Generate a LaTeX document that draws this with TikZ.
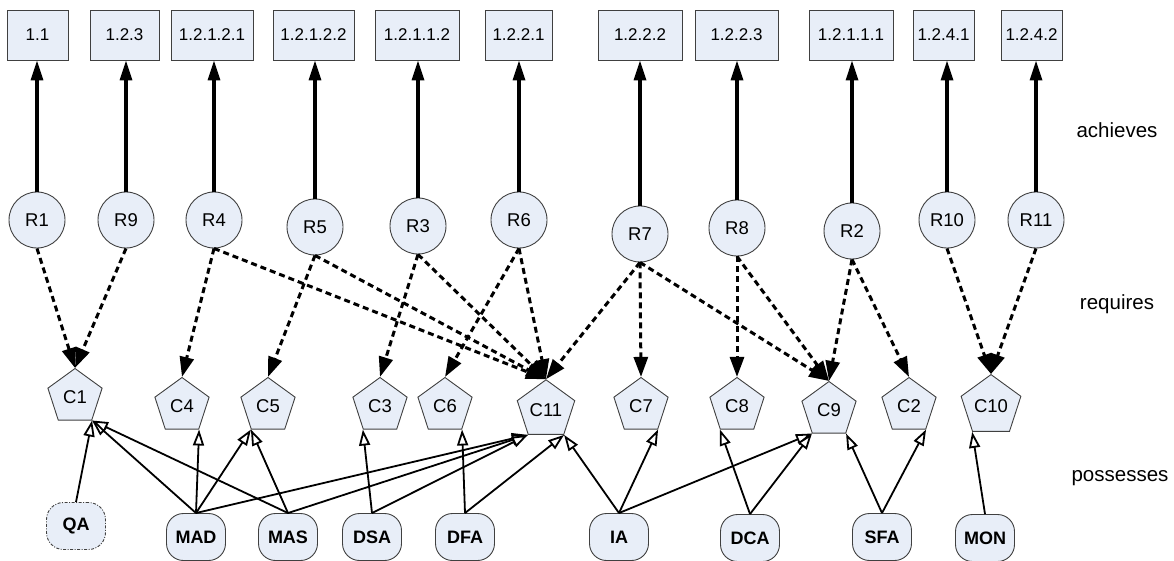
\documentclass[tikz,border=0pt]{standalone}
\usepackage{fontspec}
\setmainfont{Liberation Sans}
\usetikzlibrary{shapes.geometric,arrows.meta}
\definecolor{nodefill}{RGB}{232,238,248}
\begin{document}
\begin{tikzpicture}[x=1pt,y=-1pt,
  goal/.style={draw=black!75,line width=0.9pt,fill=nodefill,minimum height=50pt,inner sep=0pt,font=\fontsize{17}{19}\selectfont},
  role/.style={circle,draw=black!75,line width=0.9pt,fill=nodefill,minimum size=56pt,inner sep=0pt,font=\fontsize{18.5}{20}\selectfont},
  capab/.style={regular polygon,regular polygon sides=5,draw=black!75,line width=0.9pt,fill=nodefill,minimum size=57pt,inner sep=1pt,font=\fontsize{18.5}{20}\selectfont},
  agent/.style={rectangle,rounded corners=17pt,draw=black!75,line width=0.9pt,fill=nodefill,minimum width=59pt,minimum height=47pt,inner sep=0pt,font=\fontsize{18}{20}\selectfont\bfseries},
  achv/.style={line width=3.2pt,-{Triangle[length=20pt,width=12pt]}},
  reqs/.style={line width=3pt,dash pattern=on 6pt off 4pt,-{Triangle[length=20pt,width=14pt]}},
  poss/.style={line width=1.8pt,-{Triangle[open,length=16pt,width=11pt,fill=white]}},
  lbl/.style={font=\fontsize{20.5}{22}\selectfont}
]
\useasboundingbox (0,0) rectangle (1174,561);
% goals
\node[goal,minimum width=61pt] (B1) at (37.5,35) {1.1};
\node[goal,minimum width=69pt] (B9) at (124.5,35) {1.2.3};
\node[goal,minimum width=82pt] (B4) at (212,35) {1.2.1.2.1};
\node[goal,minimum width=81pt] (B5) at (313.5,35) {1.2.1.2.2};
\node[goal,minimum width=84pt] (B3) at (417,35) {1.2.1.1.2};
\node[goal,minimum width=67pt] (B6) at (518.5,35) {1.2.2.1};
\node[goal,minimum width=84pt] (B7) at (640,35) {1.2.2.2};
\node[goal,minimum width=83pt] (B8) at (736.5,35) {1.2.2.3};
\node[goal,minimum width=84pt] (B2) at (851,35) {1.2.1.1.1};
\node[goal,minimum width=61pt] (B10) at (943.5,35) {1.2.4.1};
\node[goal,minimum width=61pt] (B11) at (1031.5,35) {1.2.4.2};
% roles
\node[role] (R1) at (37,220) {R1};
\node[role] (R9) at (126,220) {R9};
\node[role] (R4) at (214,220) {R4};
\node[role] (R5) at (315,227) {R5};
\node[role] (R3) at (418,226) {R3};
\node[role] (R6) at (519,220) {R6};
\node[role] (R7) at (640,234) {R7};
\node[role] (R8) at (737,228) {R8};
\node[role] (R2) at (852,231) {R2};
\node[role] (R10) at (947,220) {R10};
\node[role] (R11) at (1036,220) {R11};
% capabilities
\node[capab] (C1) at (75,397) {C1};
\node[capab] (C4) at (182,406) {C4};
\node[capab] (C5) at (268,406) {C5};
\node[capab] (C3) at (380,406) {C3};
\node[capab] (C6) at (445,406) {C6};
\node[capab] (C11) at (546,410) {C11};
\node[capab] (C7) at (641,406) {C7};
\node[capab] (C8) at (737,406) {C8};
\node[capab] (C9) at (829,410) {C9};
\node[capab] (C2) at (909,406) {C2};
\node[capab] (C10) at (991,406) {C10};
% agents
\node[agent,dash pattern=on 3pt off 1.5pt on 1pt off 1.5pt] (QA) at (76,526) {QA};
\node[agent] (MAD) at (196,537) {MAD};
\node[agent] (MAS) at (288,537) {MAS};
\node[agent] (DSA) at (372,537) {DSA};
\node[agent] (DFA) at (465,537) {DFA};
\node[agent] (IA) at (619,537) {IA};
\node[agent] (DCA) at (750,538) {DCA};
\node[agent] (SFA) at (882,537) {SFA};
\node[agent] (MON) at (985,538) {MON};
% labels
\node[lbl] (Lach) at (1117,130) {achieves};
\node[lbl] (Lreq) at (1117,304) {requires};
\node[lbl] (Lpos) at (1120,478) {possesses};
% achieves
\foreach \r in {1,9,4,5,3,6,7,8,2,10,11}
  \draw[achv] (R\r.north) -- (R\r.north |- B\r.south);
% requires
\draw[reqs] (R1.south) -- (C1.corner 1);
\draw[reqs] (R9.south) -- (C1.corner 1);
\draw[reqs] (R4.south) -- (C4.corner 1);
\draw[reqs] (R4.south) -- (C11.corner 1);
\draw[reqs] (R5.south) -- (C5.corner 1);
\draw[reqs] (R5.south) -- (C11.corner 1);
\draw[reqs] (R3.south) -- (C3.corner 1);
\draw[reqs] (R3.south) -- (C11.corner 1);
\draw[reqs] (R6.south) -- (C6.corner 1);
\draw[reqs] (R6.south) -- (C11.corner 1);
\draw[reqs] (R7.south) -- (C11.corner 1);
\draw[reqs] (R7.south) -- (C7.corner 1);
\draw[reqs] (R7.south) -- (C9.corner 1);
\draw[reqs] (R8.south) -- (C8.corner 1);
\draw[reqs] (R8.south) -- (C9.corner 1);
\draw[reqs] (R2.south) -- (C9.corner 1);
\draw[reqs] (R2.south) -- (C2.corner 1);
\draw[reqs] (R10.south) -- (C10.corner 1);
\draw[reqs] (R11.south) -- (C10.corner 1);
% possesses
\draw[poss] (QA.north) -- (C1.corner 4);
\draw[poss] (MAD.north) -- (C1.corner 4);
\draw[poss] (MAS.north) -- (C1.corner 4);
\draw[poss] (MAD.north) -- (C4.corner 4);
\draw[poss] (MAD.north) -- (C5.corner 3);
\draw[poss] (MAS.north) -- (C5.corner 3);
\draw[poss] (DSA.north) -- (C3.corner 3);
\draw[poss] (MAD.north) -- (C11.corner 3);
\draw[poss] (MAS.north) -- (C11.corner 3);
\draw[poss] (DSA.north) -- (C11.corner 3);
\draw[poss] (DFA.north) -- (C6.corner 4);
\draw[poss] (DFA.north) -- (C11.corner 4);
\draw[poss] (IA.north) -- (C11.corner 4);
\draw[poss] (IA.north) -- (C7.corner 4);
\draw[poss] (IA.north) -- (C9.corner 3);
\draw[poss] (DCA.north) -- (C8.corner 3);
\draw[poss] (DCA.north) -- (C9.corner 3);
\draw[poss] (SFA.north) -- (C9.corner 4);
\draw[poss] (SFA.north) -- (C2.corner 4);
\draw[poss] (MON.north) -- (C10.corner 3);
\end{tikzpicture}
\end{document}
